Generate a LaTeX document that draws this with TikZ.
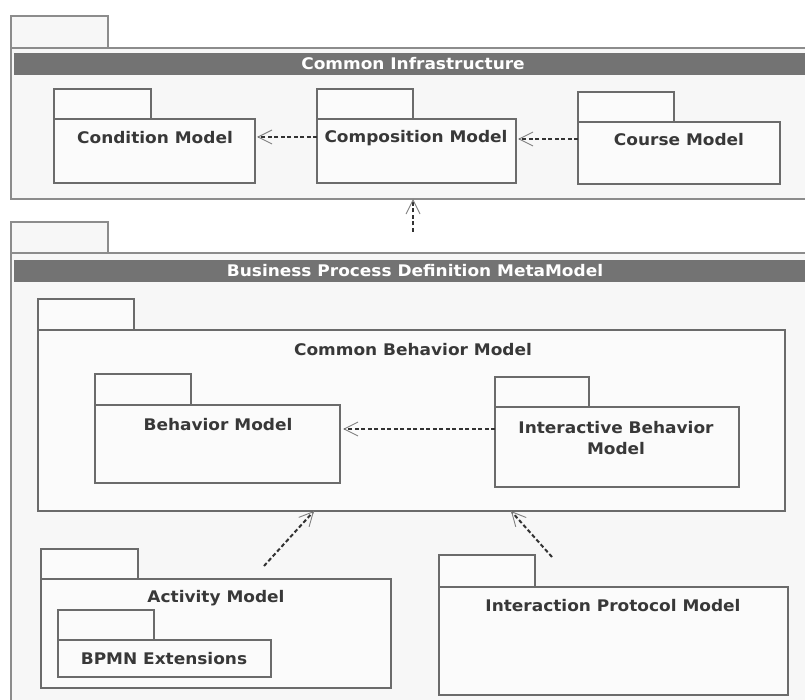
\documentclass[tikz,border=0pt]{standalone}
\usepackage{fontspec}
\newfontfamily\lblfont[FakeStretch=1.06]{DejaVu Sans Bold}
\usetikzlibrary{arrows.meta,calc}
\newcommand\pkgbox[7]{% name, x, y (top of body), w, h, tab w, tab h
  \node[pkgtab, anchor=south west, minimum width=#6pt, minimum height=#7pt] (#1tab) at (#2,#3) {};
  \node[pkgbody, anchor=north west, minimum width=#4pt, minimum height=#5pt] (#1) at (#2,#3) {};}
\begin{document}
\begin{tikzpicture}[x=1pt,y=-1pt,
  pkgbody/.style={draw=black!58, line width=1.3pt, fill=black!1.5, inner sep=0pt, outer sep=0pt},
  pkgtab/.style={pkgbody},
  outerbody/.style={draw=black!45, line width=1.3pt, fill=black!3, inner sep=0pt, outer sep=0pt},
  hdr/.style={fill=black!55, draw=none, inner sep=0pt, outer sep=0pt},
  lbl/.style={font=\lblfont\fontsize{16}{21}\selectfont, text=black!78, align=center, inner sep=0pt},
  hdrlbl/.style={lbl, text=white},
  dep/.style={draw=black!80, line width=2pt, dash pattern=on 4pt off 2.5pt,
    -{Straight Barb[length=14pt,width=14pt,line width=0.9pt,color=black!50]}}
]
\clip (0,0) rectangle (805,700);
\fill[white] (0,0) rectangle (805,700);

% ---------- Common Infrastructure ----------
\node[outerbody, anchor=south west, minimum width=97pt, minimum height=32pt] (outer1tab) at (11,48) {};
\node[outerbody, anchor=north west, minimum width=820pt, minimum height=151pt] (outer1) at (11,48) {};
\node[hdr, anchor=north west, minimum width=806pt, minimum height=22pt] (hdr1) at (14,53) {};
\node[hdrlbl] (hdr1T) at (413,64) {Common Infrastructure};

\pkgbox{cond}{54}{119}{201}{64}{97}{30}
\pkgbox{comp}{317}{119}{199}{64}{96}{30}
\pkgbox{course}{578}{122}{202}{62}{96}{30}
\node[lbl] (condT) at (155,138) {Condition Model};
\node[lbl] (compT) at (416,138) {Composition Model};
\node[lbl] (courseT) at (679,140) {Course Model};

% ---------- Business Process Definition MetaModel ----------
\node[outerbody, anchor=south west, minimum width=97pt, minimum height=31pt] (outer2tab) at (11,253) {};
\node[outerbody, anchor=north west, minimum width=820pt, minimum height=470pt] (outer2) at (11,253) {};
\node[hdr, anchor=north west, minimum width=806pt, minimum height=22pt] (hdr2) at (14,260) {};
\node[hdrlbl] (hdr2T) at (415,271) {Business Process Definition MetaModel};

\pkgbox{cbm}{38}{330}{747}{181}{96}{31}
\node[lbl] (cbmT) at (413,350) {Common Behavior Model};
\pkgbox{beh}{95}{405}{245}{78}{96}{31}
\pkgbox{ibm}{495}{407}{244}{80}{94}{30}
\node[lbl] (behT) at (218,425) {Behavior Model};
\node[lbl] (ibmT) at (616,438) {Interactive Behavior\\Model};

\pkgbox{act}{41}{579}{350}{109}{97}{30}
\node[lbl] (actT) at (216,598) {Activity Model};
\pkgbox{bpmn}{58}{640}{213}{37}{96}{30}
\node[lbl] (bpmnT) at (164,659) {BPMN Extensions};
\pkgbox{ip}{439}{587}{349}{108}{96}{32}
\node[lbl] (ipT) at (613,606) {Interaction Protocol Model};

% ---------- dependencies ----------
\draw[dep] ($(comp.north west)+(0,18)$) -- ($(cond.north east)+(2,18)$);
\draw[dep] ($(course.north west)+(0,17)$) -- ($(comp.north east)+(2,20)$);
\coordinate (o2src) at (413,232);
\draw[dep] (o2src) -- (o2src |- outer1.south);
\draw[dep] ($(ibm.north west)+(0,22)$) -- ($(beh.north east)+(3,24)$);
\coordinate (actsrc) at (264,566);
\draw[dep] (actsrc) -- ($(cbm.south west)+(276,0)$);
\coordinate (ipsrc) at (552,557);
\draw[dep] (ipsrc) -- ($(cbm.south west)+(473,0)$);
\end{tikzpicture}
\end{document}
